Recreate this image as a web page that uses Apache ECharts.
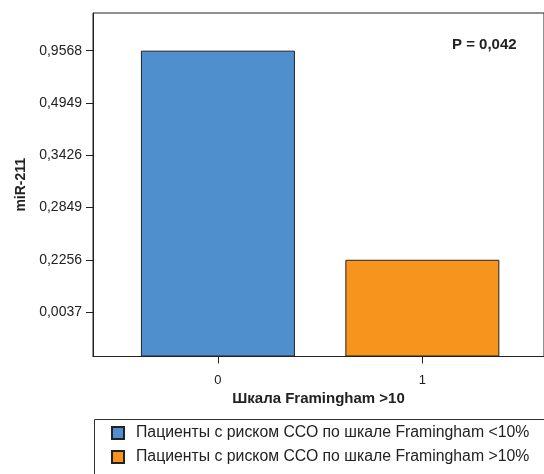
<!DOCTYPE html>
<html>
<head>
<meta charset="utf-8">
<script src="https://cdn.jsdelivr.net/npm/echarts@6/dist/echarts.min.js"></script>
<style>
  html, body { margin: 0; padding: 0; background: #fff; }
  #chart { width: 544px; height: 474px; }
</style>
</head>
<body>
<div id="chart"></div>
<script>
// Group codes on the x axis and the two patient groups
const categories = ['0', '1'];
const seriesNames = [
  'Пациенты с риском ССО по шкале Framingham <10%',
  'Пациенты с риском ССО по шкале Framingham >10%'
];
// miR-211 level per group
const barValues = [0.9568, 0.2256];
// Tick values of the (rank-spaced) miR-211 axis and their printed labels
const yTickValues = [0.0037, 0.2256, 0.2849, 0.3426, 0.4949, 0.9568];
const yTickLabels = ['0,0037', '0,2256', '0,2849', '0,3426', '0,4949', '0,9568'];
const colors = ['#4F8FCD', '#F7941D'];
const pText = 'P = 0,042';

// The axis places its ticks at equal steps; values are mapped piecewise-linearly
// between neighbouring ticks. BASE is the room kept under the lowest tick.
const BASE = 0.85;
function toAxis(v) {
  for (let i = 0; i < yTickValues.length - 1; i++) {
    const a = yTickValues[i], b = yTickValues[i + 1];
    if (v <= b || i === yTickValues.length - 2) {
      return BASE + i + (v - a) / (b - a);
    }
  }
  return BASE;
}
const yTickPos = yTickValues.map(toAxis);

const font = '"Liberation Sans", Arial, sans-serif';
const chart = echarts.init(document.getElementById('chart'), null, { renderer: 'canvas' });

chart.setOption({
  animation: false,
  textStyle: { fontFamily: font },
  grid: {
    left: 93, top: 13, right: -2, bottom: 117.5,
    show: true, borderColor: '#222', borderWidth: 1
  },
  xAxis: {
    type: 'value',
    min: -0.611, max: 1.595,
    splitLine: { show: false },
    axisLine: { show: true, onZero: false, lineStyle: { color: '#222', width: 1 } },
    axisTick: { show: true, length: 7, lineStyle: { color: '#222' }, customValues: [0, 1] },
    axisLabel: {
      customValues: [0, 1], margin: 17,
      color: '#222', fontSize: 13, fontFamily: font,
      formatter: v => categories[Math.round(v)]
    },
    name: 'Шкала Framingham >10',
    nameLocation: 'middle', nameGap: 35,
    nameTextStyle: { color: '#222', fontSize: 15, fontWeight: 'bold', fontFamily: font }
  },
  yAxis: {
    type: 'value',
    min: 0, max: 6.57,
    splitLine: { show: false },
    axisLine: { show: true, onZero: false, lineStyle: { color: '#222', width: 1 } },
    axisTick: { show: true, length: 7, lineStyle: { color: '#222' }, customValues: yTickPos },
    axisLabel: {
      customValues: yTickPos, margin: 11,
      color: '#222', fontSize: 14, fontFamily: font,
      formatter: v => yTickLabels[Math.round(v - BASE)]
    },
    name: 'miR-211',
    nameLocation: 'middle', nameGap: 64, nameRotate: 90,
    nameTextStyle: { color: '#222', fontSize: 14, fontWeight: 'bold', fontFamily: font }
  },
  legend: {
    orient: 'vertical', left: 106, top: 419, height: 60,
    itemWidth: 12, itemHeight: 12, itemGap: 6,
    icon: 'rect',
    textStyle: { color: '#222', fontSize: 15.8, lineHeight: 18, fontFamily: font, padding: [0, 0, 0, 7] },
    data: seriesNames
  },
  series: seriesNames.map((name, i) => ({
    name,
    type: 'bar',
    barWidth: 154,
    barGap: '-100%',
    itemStyle: { color: colors[i], borderColor: '#222', borderWidth: 1 },
    data: [[i, toAxis(barValues[i])]]
  })),
  graphic: [
    {
      type: 'rect', left: 92, top: 417,
      shape: { width: 470, height: 80 },
      style: { fill: 'none', stroke: '#333', lineWidth: 1 }
    },
    {
      type: 'text', left: 452, top: 37,
      style: { text: pText, fill: '#222', font: 'bold 15px ' + font }
    }
  ]
});
</script>
</body>
</html>
